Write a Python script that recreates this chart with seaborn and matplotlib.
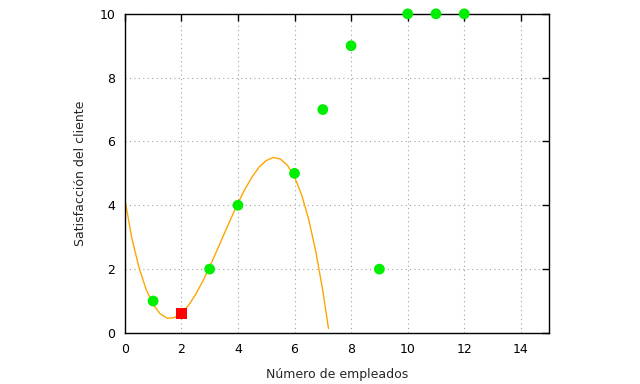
import numpy as np
import pandas as pd
import matplotlib
matplotlib.use("Agg")
import matplotlib.pyplot as plt
import seaborn as sns

# puntos verdes (empleados, satisfacción)
emp = [1, 3, 4, 6, 7, 8, 9, 10, 11, 12]
satis = [1, 2, 4, 5, 7, 9, 2, 10, 10, 10]

# punto rojo
rojo_x = [2]
rojo_y = [0.6]

# curva naranja
curva_x = [0, 0.25, 0.5, 0.75, 1, 1.25, 1.5, 1.75, 2, 2.25, 2.5, 2.75, 3, 3.25,
           3.5, 3.75, 4, 4.25, 4.5, 4.75, 5, 5.25, 5.5, 5.75, 6, 6.25, 6.5,
           6.75, 7, 7.2]
curva_y = [4.2, 2.96, 2.06, 1.37, 0.89, 0.6, 0.46, 0.48, 0.62, 0.86, 1.2, 1.61,
           2.07, 2.57, 3.08, 3.58, 4.07, 4.51, 4.89, 5.2, 5.4, 5.5, 5.45, 5.25,
           4.89, 4.33, 3.56, 2.56, 1.32, 0.14]

sns.set_style("white")
plt.rcParams['font.family'] = ['DejaVu Sans']

fig = plt.figure(figsize=(6.4, 3.84), dpi=100)
ax = fig.add_axes([0.195, 0.133, 0.663, 0.831])

df_curva = pd.DataFrame({"x": curva_x, "y": curva_y})
sns.lineplot(data=df_curva, x="x", y="y", color="orange", linewidth=1.0, ax=ax,
             sort=False, zorder=2)

df_pts = pd.DataFrame({"x": emp, "y": satis})
sns.scatterplot(data=df_pts, x="x", y="y", color="#00ee00", s=60, edgecolor="none",
                ax=ax, zorder=3, clip_on=False)

df_rojo = pd.DataFrame({"x": rojo_x, "y": rojo_y})
sns.scatterplot(data=df_rojo, x="x", y="y", color="red", marker="s", s=60,
                edgecolor="none", ax=ax, zorder=4, clip_on=False)

ax.set_xlim(0, 15)
ax.set_ylim(0, 10)
ax.set_xticks(np.arange(0, 15, 2))
ax.set_yticks(np.arange(0, 11, 2))
ax.grid(True, color="#a0a0a0", linestyle=(0, (1, 3)), linewidth=0.8)
ax.tick_params(direction="in", length=5, width=1, top=True, right=True,
               labelsize=9, pad=7, colors="black")
for s in ax.spines.values():
    s.set_color("black")
    s.set_linewidth(1)

ax.set_xlabel("Número de empleados", fontsize=9, labelpad=9)
ax.set_ylabel("Satisfacción del cliente", fontsize=9, labelpad=9)

fig.savefig("out.png", dpi=100)
